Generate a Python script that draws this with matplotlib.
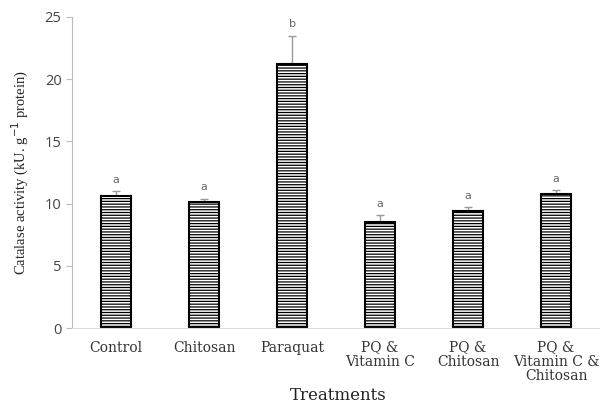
import matplotlib.pyplot as plt
import numpy as np

# Data
treatments = ['Control', 'Chitosan', 'Paraquat', 'PQ &\nVitamin C', 'PQ &\nChitosan', 'PQ &\nVitamin C &\nChitosan']
catalase = [10.6, 10.1, 21.2, 8.5, 9.4, 10.8]
errors = [0.4, 0.3, 2.3, 0.6, 0.3, 0.3]
letters = ['a', 'a', 'b', 'a', 'a', 'a']

plt.rcParams['hatch.color'] = '#8a8a8a'
plt.rcParams['hatch.linewidth'] = 0.9

fig = plt.figure(figsize=(6, 4.04), dpi=100)
ax = fig.add_axes([0.12, 0.188, 0.88, 0.77])

x = np.arange(len(treatments))
ax.bar(x, catalase, width=0.34, color='white', edgecolor='black', linewidth=1.5,
       hatch='------', zorder=2)
ax.errorbar(x, catalase, yerr=[np.zeros(len(errors)), errors], fmt='none',
            ecolor='#999999', elinewidth=1, capsize=3, zorder=1)

for xi, v, e, l in zip(x, catalase, errors, letters):
    ax.text(xi, v + e + 0.5, l, ha='center', va='bottom', fontsize=8, color='#666666')

ax.set_xlim(-0.5, 5.5)
ax.set_ylim(0, 25)
ax.set_yticks([0, 5, 10, 15, 20, 25])
ax.set_xticks(x)
ax.set_xticklabels(treatments, family='DejaVu Serif', fontsize=10, color='#333333',
                   linespacing=1.0)
ax.tick_params(axis='x', length=0, pad=9)
ax.tick_params(axis='y', length=4, color='#bbbbbb', labelsize=10.5, labelcolor='#444444')
for lbl in ax.get_yticklabels():
    lbl.set_family('Open Sans')

for s in ['top', 'right']:
    ax.spines[s].set_visible(False)
ax.spines['left'].set_color('#bbbbbb')
ax.spines['bottom'].set_color('#dddddd')

ax.set_ylabel('Catalase activity (kU. g$^{-1}$ protein)', family='Liberation Serif',
              fontsize=10.5, color='#222222', labelpad=10)
fig.text(0.563, 0.022, 'Treatments', ha='center', va='center', family='DejaVu Serif',
         fontsize=12, color='#222222')

fig.savefig('out.png', dpi=100)
